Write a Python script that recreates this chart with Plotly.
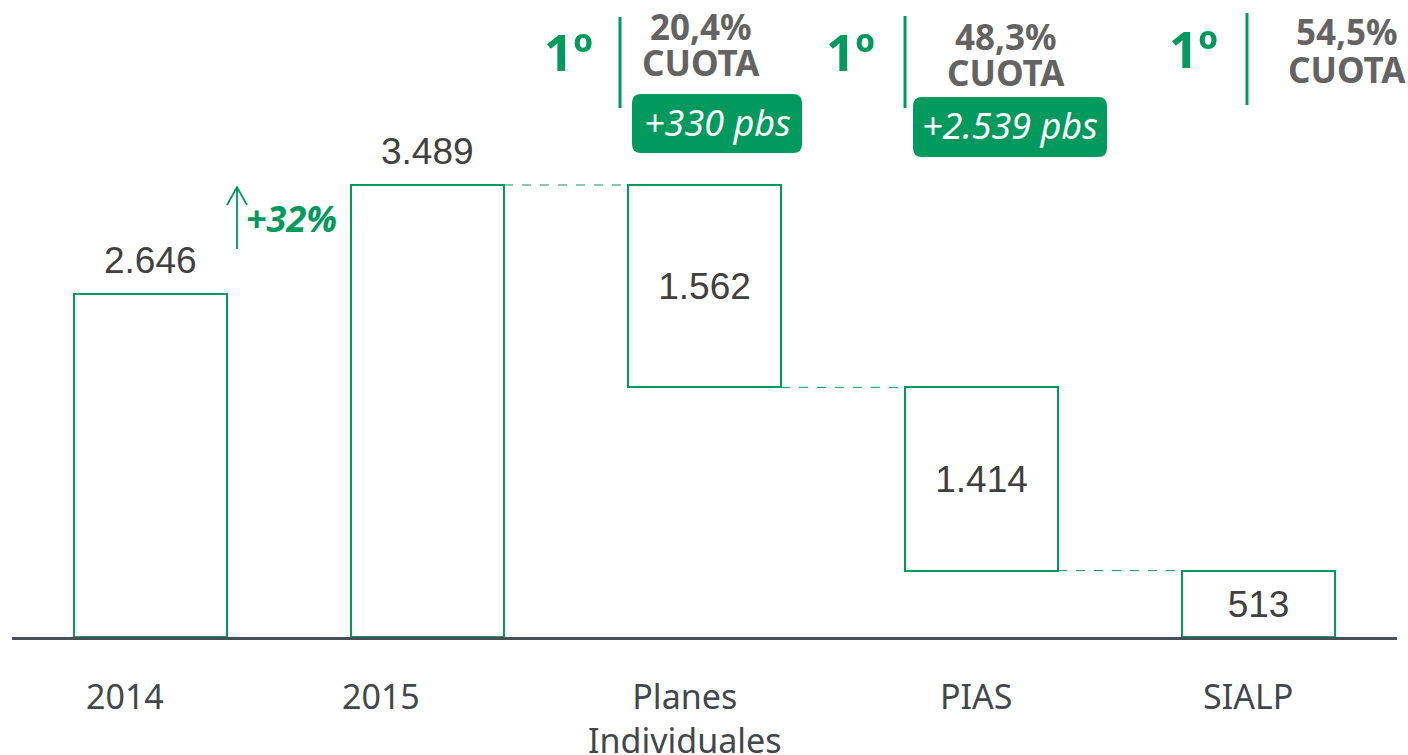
import plotly.graph_objects as go

# ---- data ----
categories = ["2014", "2015", "Planes<br>Individuales", "PIAS", "SIALP"]
values = [2646, 3489, 1562, 1414, 513]
value_labels = ["2.646", "3.489", "1.562", "1.414", "513"]
kinds = ["total", "total", "decrease", "decrease", "decrease"]
ranks = ["1º", "1º", "1º"]
shares = ["20,4%", "48,3%", "54,5%"]
share_changes = ["+330 pbs", "+2.539 pbs", None]
growth_label = "+32%"

GREEN = "#00995E"
GRAY = "#404040"
LABEL_GRAY = "#41474D"
W, H = 1408, 755
ML, MR, MT, MB = 12, 11, 0, 118
PW, PH = W - ML - MR, H - MT - MB

# category label horizontal offsets (px) as laid out in the original slide
label_shift = [-26, -47, -20, -5, -11]

# compute bar bases (waterfall)
bases, tops = [], []
running = 0
for v, k in zip(values, kinds):
    if k == "total":
        bases.append(0)
        running = v
    else:
        running = running - v
        bases.append(running)
    tops.append(bases[-1] + v)

xs = list(range(len(categories)))
bar_w = 0.552
ymax = 4917
LABEL_FONT = dict(family="Liberation Sans, Arial", size=37, color=GRAY)

fig = go.Figure()
inside_text = [t if k != "total" else "" for t, k in zip(value_labels, kinds)]
fig.add_trace(go.Bar(
    x=xs, y=values, base=bases, width=bar_w,
    marker=dict(color="white", line=dict(color=GREEN, width=2)),
    text=inside_text,
    textposition="inside",
    insidetextanchor="middle",
    textangle=0,
    constraintext="none",
    textfont=LABEL_FONT,
    insidetextfont=LABEL_FONT,
    cliponaxis=False,
    hoverinfo="skip",
    showlegend=False,
))

# dashed connectors between consecutive bars
for i in range(1, len(values) - 1):
    level = tops[i] if kinds[i] == "total" else bases[i]
    fig.add_trace(go.Scatter(
        x=[i + bar_w / 2, i + 1 - bar_w / 2], y=[level, level],
        mode="lines", line=dict(color=GREEN, width=1, dash="dash"),
        hoverinfo="skip", showlegend=False,
    ))


def px(x):
    return (x - ML) / PW


def py(y):
    return 1 - (y - MT) / PH


def rounded_rect(x0, y0, x1, y1, r):
    pts = [
        f"M {px(x0 + r)},{py(y0)}",
        f"L {px(x1 - r)},{py(y0)}",
        f"Q {px(x1)},{py(y0)} {px(x1)},{py(y0 + r)}",
        f"L {px(x1)},{py(y1 - r)}",
        f"Q {px(x1)},{py(y1)} {px(x1 - r)},{py(y1)}",
        f"L {px(x0 + r)},{py(y1)}",
        f"Q {px(x0)},{py(y1)} {px(x0)},{py(y1 - r)}",
        f"L {px(x0)},{py(y0 + r)}",
        f"Q {px(x0)},{py(y0)} {px(x0 + r)},{py(y0)}",
        "Z",
    ]
    return " ".join(pts)


annotations = []
shapes = []


def add_text(x, y, text, font):
    annotations.append(dict(x=px(x), y=py(y), xref="paper", yref="paper",
                            xanchor="center", yanchor="middle",
                            text=text, showarrow=False, font=font))


# value labels above the total bars
for i, (t, k) in enumerate(zip(value_labels, kinds)):
    if k == "total":
        annotations.append(dict(x=i, y=tops[i], xref="x", yref="y",
                                xanchor="center", yanchor="middle", yshift=34,
                                text=t, showarrow=False, font=LABEL_FONT))

# category labels under the axis
for i, c in enumerate(categories):
    annotations.append(dict(x=i, y=py(718 if "<br>" in c else 696), xref="x", yref="paper",
                            xanchor="center", yanchor="middle",
                            xshift=label_shift[i],
                            text=c, showarrow=False,
                            font=dict(family="Noto Sans", size=34, color=LABEL_GRAY)))

# top groups: rank, separator, share, change box
groups = [
    dict(rank_x=568, rank_y=51, sep_x=620, sep_y=(17, 108), share_x=701, share_y=(26, 63),
         box=(632, 94, 802, 153)),
    dict(rank_x=851, rank_y=51, sep_x=905, sep_y=(16, 108), share_x=1006, share_y=(36, 73),
         box=(913, 97, 1107, 157)),
    dict(rank_x=1193, rank_y=48, sep_x=1247, sep_y=(13, 105), share_x=1347, share_y=(32, 69),
         box=None),
]
for g, rk, sh, ch in zip(groups, ranks, shares, share_changes):
    add_text(g["rank_x"], g["rank_y"], f"<b>{rk}</b>",
             dict(family="Noto Sans", size=51, color=GREEN))
    shapes.append(dict(type="line", xref="paper", yref="paper",
                       x0=px(g["sep_x"]), x1=px(g["sep_x"]),
                       y0=py(g["sep_y"][0]), y1=py(g["sep_y"][1]),
                       line=dict(color=GREEN, width=3)))
    add_text(g["share_x"], g["share_y"][0], f"<b>{sh}</b>",
             dict(family="Noto Sans", size=35, color="#636363"))
    add_text(g["share_x"], g["share_y"][1], "<b>CUOTA</b>",
             dict(family="Noto Sans", size=35, color="#636363"))
    if ch and g["box"]:
        x0, y0, x1, y1 = g["box"]
        shapes.append(dict(type="path", xref="paper", yref="paper",
                           path=rounded_rect(x0, y0, x1, y1, 9),
                           fillcolor=GREEN, line=dict(width=0)))
        add_text((x0 + x1) / 2, (y0 + y1) / 2 - 1, f"<i>{ch}</i>",
                 dict(family="Noto Sans", size=36, color="white"))

# growth arrow and label
ax_x = 237
shapes.append(dict(type="path", xref="paper", yref="paper",
                   path=(f"M {px(ax_x)},{py(249)} L {px(ax_x)},{py(187)} "
                         f"M {px(ax_x - 10)},{py(205)} L {px(ax_x)},{py(187)} L {px(ax_x + 10)},{py(205)}"),
                   line=dict(color=GREEN, width=1.8)))
add_text(291, 219, f"<b><i>{growth_label}</i></b>",
         dict(family="Noto Sans", size=36, color=GREEN))

fig.update_layout(
    width=W, height=H,
    margin=dict(l=ML, r=MR, t=MT, b=MB, autoexpand=False),
    plot_bgcolor="white", paper_bgcolor="white",
    xaxis=dict(
        range=[-0.5, len(categories) - 0.5],
        tickvals=xs, showticklabels=False,
        showgrid=False, zeroline=False,
        showline=True, linecolor="#4A4F55", linewidth=3,
        ticks="",
        fixedrange=True, automargin=False,
    ),
    yaxis=dict(range=[0, ymax], visible=False, fixedrange=True, automargin=False),
    annotations=annotations,
    shapes=shapes,
    bargap=0,
)

fig.write_html("out.html", post_script="document.body.style.margin='0';",
               config={"displayModeBar": False})
